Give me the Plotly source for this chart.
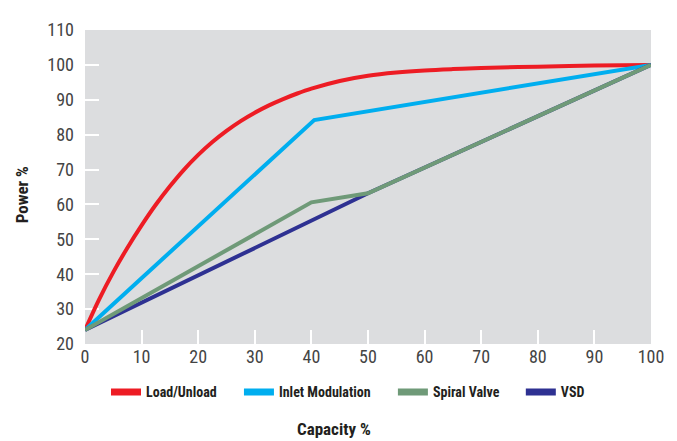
import plotly.graph_objects as go

# Data
load_x = [0, 2.5, 5, 7.5, 10, 12.5, 15, 17.5, 20, 22.5, 25, 27.5, 30, 32.5, 35, 37.5, 40, 45, 50, 55, 60, 65, 70, 80, 90, 100]
load_y = [24, 32.8, 40.6, 47.6, 54.0, 59.9, 65.2, 70.0, 74.2, 77.9, 81.1, 83.9, 86.3, 88.4, 90.2, 91.8, 93.2, 95.4, 96.9, 97.8, 98.4, 98.8, 99.1, 99.5, 99.8, 100]
inlet_x = [0, 40.5, 100]
inlet_y = [24, 84.2, 100]
spiral_x = [0, 40, 50, 100]
spiral_y = [24, 60.6, 63.2, 100]
vsd_x = [0, 50, 100]
vsd_y = [24, 63.2, 100]

names = ["Load/Unload", "Inlet Modulation", "Spiral Valve", "VSD"]
colors = ["#ed1c24", "#00aeef", "#6f9a78", "#2e3192"]

x_ticks = [0, 10, 20, 30, 40, 50, 60, 70, 80, 90, 100]
y_ticks = [20, 30, 40, 50, 60, 70, 80, 90, 100, 110]

FONT = "Liberation Sans Narrow, Arial Narrow, Roboto Condensed, sans-serif"

fig = go.Figure()
# data lines (green drawn over navy)
fig.add_trace(go.Scatter(x=load_x, y=load_y, mode="lines", name=names[0], showlegend=False,
                         line=dict(color=colors[0], width=4, shape="spline", smoothing=1.0)))
fig.add_trace(go.Scatter(x=inlet_x, y=inlet_y, mode="lines", name=names[1], showlegend=False,
                         line=dict(color=colors[1], width=4)))
fig.add_trace(go.Scatter(x=vsd_x, y=vsd_y, mode="lines", name=names[3], showlegend=False,
                         line=dict(color=colors[3], width=4)))
fig.add_trace(go.Scatter(x=spiral_x, y=spiral_y, mode="lines", name=names[2], showlegend=False,
                         line=dict(color=colors[2], width=4)))

# legend entries (thick swatches), one legend each for exact placement
legend_ids = ["legend", "legend2", "legend3", "legend4"]
legend_x = [0.0371, 0.272, 0.544, 0.770]
for nm, col, lid in zip(names, colors, legend_ids):
    fig.add_trace(go.Scatter(x=[None], y=[None], mode="lines", name=nm, showlegend=True,
                             legend=lid, line=dict(color=col, width=7), hoverinfo="skip"))

legend_style = dict(orientation="h", xanchor="left", y=-0.154, yanchor="middle",
                    font=dict(family=FONT, size=14, color="#231f20", weight="bold"),
                    itemwidth=30, bgcolor="rgba(0,0,0,0)")

fig.update_layout(
    width=669, height=433,
    margin=dict(l=77, r=26, t=11, b=97),
    paper_bgcolor="white",
    plot_bgcolor="#dcdddf",
    font=dict(family=FONT, color="#444444"),
    showlegend=True,
    legend=dict(x=legend_x[0], **legend_style),
    legend2=dict(x=legend_x[1], **legend_style),
    legend3=dict(x=legend_x[2], **legend_style),
    legend4=dict(x=legend_x[3], **legend_style),
    xaxis=dict(range=[0, 100], tickvals=x_ticks, ticktext=[str(v) for v in x_ticks],
               ticks="inside", ticklen=14, tickwidth=2, tickcolor="white",
               showgrid=False, zeroline=False, showline=False, layer="below traces",
               tickfont=dict(size=18, color="#444444")),
    yaxis=dict(range=[20, 110], tickvals=y_ticks, ticktext=[str(v) for v in y_ticks],
               ticks="inside", ticklen=14, tickwidth=2, tickcolor="white",
               showgrid=False, zeroline=False, showline=False, ticklabelstandoff=10,
               layer="below traces",
               tickfont=dict(size=18, color="#444444")),
    annotations=[
        dict(text="<b>Power %</b>", xref="paper", yref="paper", x=-0.111, y=0.474,
             textangle=-90, showarrow=False, xanchor="center", yanchor="middle",
             font=dict(family=FONT, size=17, color="#231f20")),
        dict(text="<b>Capacity %</b>", xref="paper", yref="paper", x=0.44, y=-0.271,
             showarrow=False, xanchor="center", yanchor="middle",
             font=dict(family=FONT, size=17, color="#231f20")),
    ],
)

fig.write_html("out.html")
